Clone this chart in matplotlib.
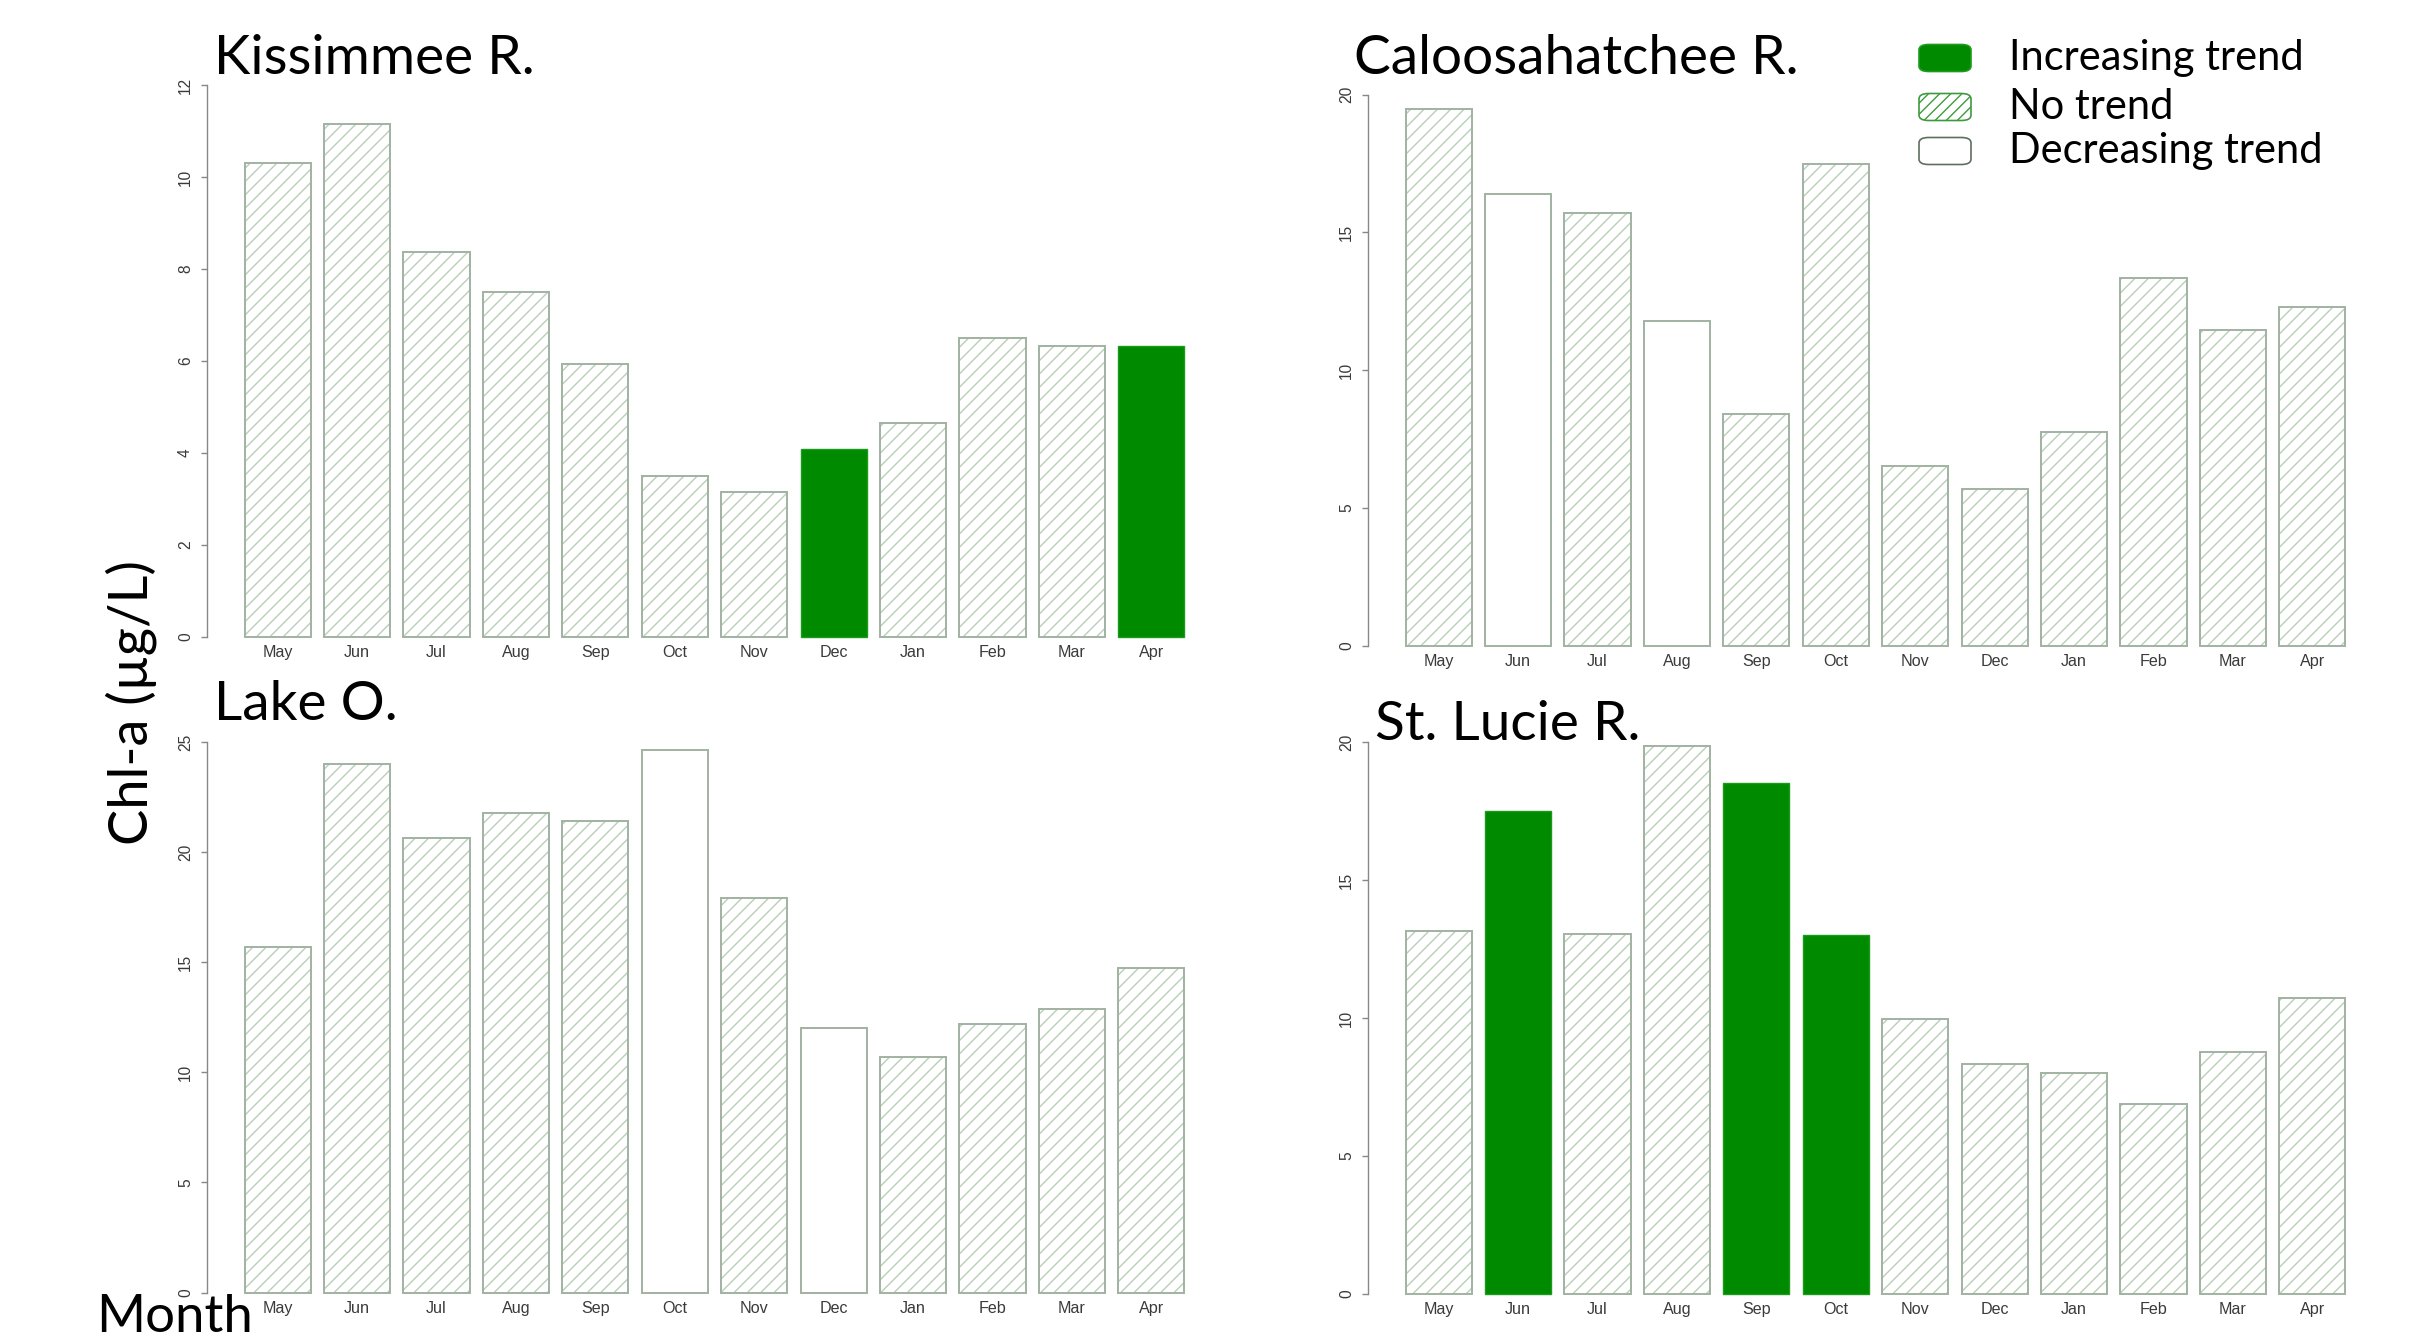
import numpy as np
import matplotlib.pyplot as plt
from matplotlib.patches import FancyBboxPatch

months = ['May', 'Jun', 'Jul', 'Aug', 'Sep', 'Oct', 'Nov', 'Dec', 'Jan', 'Feb', 'Mar', 'Apr']

# mean Chl-a per month, and the trend of each month ('up', 'none', 'down')
kissimmee = [10.3, 11.15, 8.38, 7.49, 5.93, 3.51, 3.15, 4.08, 4.65, 6.51, 6.32, 6.32]
kissimmee_trend = ['none', 'none', 'none', 'none', 'none', 'none', 'none', 'up', 'none', 'none', 'none', 'up']

caloosahatchee = [19.47, 16.4, 15.72, 11.78, 8.41, 17.48, 6.51, 5.71, 7.75, 13.36, 11.46, 12.31]
caloosahatchee_trend = ['none', 'down', 'none', 'down', 'none', 'none', 'none', 'none', 'none', 'none', 'none', 'none']

lake_o = [15.67, 23.98, 20.66, 21.78, 21.41, 24.64, 17.9, 12.0, 10.7, 12.2, 12.88, 14.74]
lake_o_trend = ['none', 'none', 'none', 'none', 'none', 'down', 'none', 'down', 'none', 'none', 'none', 'none']

st_lucie = [13.16, 17.49, 13.04, 19.86, 18.5, 13.01, 9.98, 8.35, 8.02, 6.88, 8.77, 10.71]
st_lucie_trend = ['none', 'up', 'none', 'none', 'up', 'up', 'none', 'none', 'none', 'none', 'none', 'none']

W, H = 2414, 1335
DPI = 200
GREEN = '#008a00'
HATCH_COL = '#b8cfb8'
EDGE_COL = '#a2b2a2'
TITLE_FONT = 'Lato'
TICK_FONT = 'Liberation Sans'

plt.rcParams['hatch.linewidth'] = 0.5

fig = plt.figure(figsize=(W / DPI, H / DPI), dpi=DPI)


def add_panel(left, y0_px, top_px, ymax, step, vals, trend, title, tx, ty):
    # left, y0_px, top_px in image pixels (from top)
    ax = fig.add_axes([left / W, (H - y0_px) / H, 1015 / W, (y0_px - top_px) / H])
    x = 0.7 + 1.2 * np.arange(len(months))
    vals = np.array(vals)
    hatched = np.array([t == 'none' for t in trend])
    up = np.array([t == 'up' for t in trend])
    down = np.array([t == 'down' for t in trend])

    # hatched bars: hatch first, then the outline on top
    ax.bar(x[hatched], vals[hatched], width=1, color='white', edgecolor=HATCH_COL,
           hatch='/////', linewidth=0, clip_on=False)
    ax.bar(x[hatched], vals[hatched], width=1, fill=False, edgecolor=EDGE_COL,
           linewidth=0.7, clip_on=False)
    ax.bar(x[down], vals[down], width=1, color='white', edgecolor=EDGE_COL,
           linewidth=0.7, clip_on=False)
    ax.bar(x[up], vals[up], width=1, color=GREEN, edgecolor='#1c9a1c',
           linewidth=0.5, clip_on=False)

    ax.set_xlim(-0.368, 14.968)
    ax.set_ylim(0, ymax)
    ax.set_xticks(x)
    ax.set_xticklabels(months, fontfamily=TICK_FONT, fontsize=5.8, color='#3a3a3a')
    ticks = np.arange(0, ymax + 0.01, step)
    ax.set_yticks(ticks)
    ax.set_yticklabels([str(int(t)) for t in ticks], fontfamily=TICK_FONT, fontsize=5.6,
                       color='#3a3a3a', rotation=90, va='center')
    ax.tick_params(axis='x', length=0, pad=3)
    ax.tick_params(axis='y', length=2, width=0.5, color='#888888', pad=3)
    for s in ['top', 'right', 'bottom']:
        ax.spines[s].set_visible(False)
    ax.spines['left'].set_color('#888888')
    ax.spines['left'].set_linewidth(0.5)
    ax.patch.set_alpha(0)

    fig.text(tx / W, 1 - ty / H, title, fontfamily=TITLE_FONT, fontsize=19.8,
             ha='left', va='center', color='black')
    return ax


add_panel(207, 637, 85, 12, 2, kissimmee, kissimmee_trend, 'Kissimmee R.', 214, 58)
add_panel(1368, 646, 94.5, 20, 5, caloosahatchee, caloosahatchee_trend, 'Caloosahatchee R.', 1354, 58)
add_panel(207, 1292.5, 742, 25, 5, lake_o, lake_o_trend, 'Lake O.', 214, 704)
add_panel(1368, 1294, 742, 20, 5, st_lucie, st_lucie_trend, 'St. Lucie R.', 1375, 724)

# legend (top right)
legend_items = [
    ('Increasing trend', dict(facecolor=GREEN, edgecolor='#1f9a1f', linewidth=0.6), None, 58),
    ('No trend', dict(facecolor='white', edgecolor='#3f9a3f', linewidth=0.6), '//////', 107),
    ('Decreasing trend', dict(facecolor='white', edgecolor='#5d6f5d', linewidth=0.6), None, 151),
]
for label, style, hatch, yc in legend_items:
    bw, bh = 52, 27
    box = FancyBboxPatch((1919 / W, 1 - (yc + bh / 2) / H), bw / W, bh / H,
                         boxstyle='round,pad=0,rounding_size=0.004',
                         transform=fig.transFigure, hatch=hatch, **style)
    fig.patches.append(box)
    fig.text(2009 / W, 1 - yc / H, label, fontfamily=TITLE_FONT, fontsize=15,
             ha='left', va='center', color='black')

fig.text(131 / W, 1 - 703 / H, 'Chl-a (µg/L)', fontfamily=TITLE_FONT, fontsize=19.5,
         rotation=90, ha='center', va='center', color='black')
# baseline sits on the bottom edge, as in the original slide
fig.text(96 / W, 3 / H, 'Month', fontfamily=TITLE_FONT, fontsize=19,
         ha='left', va='baseline', color='black')

fig.savefig('out.png', dpi=DPI)
